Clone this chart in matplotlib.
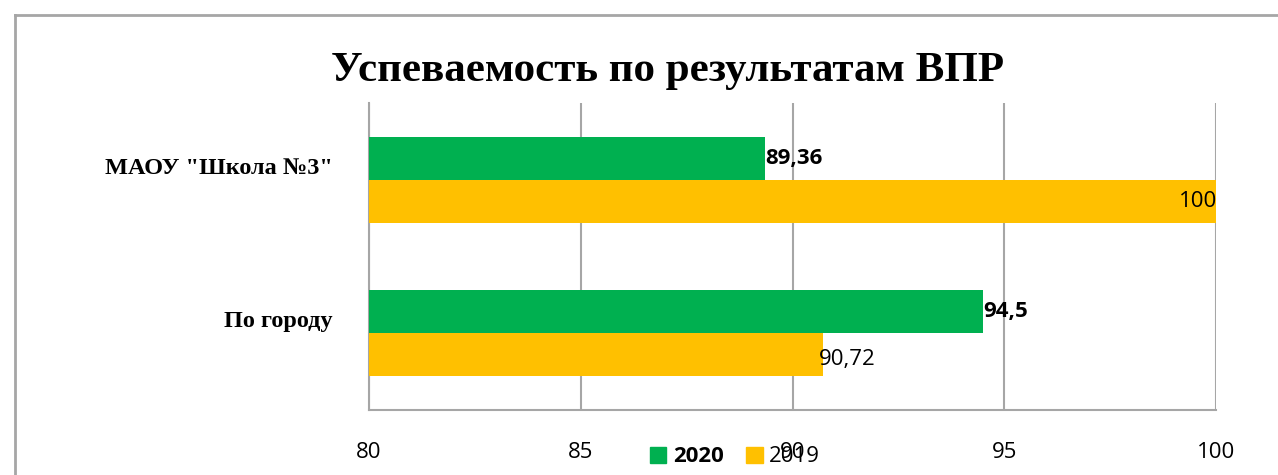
import matplotlib
matplotlib.use("Agg")
import matplotlib.pyplot as plt
import matplotlib.transforms as mtransforms
from matplotlib.lines import Line2D
from matplotlib.patches import Patch
import numpy as np

categories = ['МАОУ "Школа №3"', 'По городу']
values_2020 = [89.36, 94.5]
values_2019 = [100, 90.72]
labels_2020 = ['89,36', '94,5']
labels_2019 = ['100', '90,72']
series_names = ['2020', '2019']
xticks = [80, 85, 90, 95, 100]
title = 'Успеваемость по результатам ВПР'

GREEN = '#00B050'
YELLOW = '#FFC000'
GRID = '#A6A6A6'

fig = plt.figure(figsize=(12.78, 4.75), dpi=100)
ax = fig.add_axes([369/1278, (475-410)/475, (1216-369)/1278, 307/475])

pos = np.array([1, 0])
h = 0.28
ax.barh(pos + h/2, np.array(values_2020) - 80, left=80, height=h, color=GREEN, zorder=3)
ax.barh(pos - h/2, np.array(values_2019) - 80, left=80, height=h, color=YELLOW, zorder=3)

FS = 16
ax.set_xlim(80, 100)
ax.set_ylim(-0.5, 1.5)
ax.set_xticks(xticks)
ax.set_xticklabels([str(t) for t in xticks], fontfamily='Open Sans', fontsize=FS)
ax.tick_params(axis='x', length=0, pad=23)
ax.set_yticks(pos)
ax.set_yticklabels(categories, fontfamily='Liberation Serif', fontweight='bold', fontsize=17.5)
ax.tick_params(axis='y', length=0, pad=26)
off = mtransforms.ScaledTranslation(0, 14/100, fig.dpi_scale_trans)
for lab in ax.get_yticklabels():
    lab.set_transform(lab.get_transform() + off)

ax.grid(axis='x', color=GRID, linewidth=1.5, zorder=0)
for s in ['top', 'right']:
    ax.spines[s].set_visible(False)
for s in ['left', 'bottom']:
    ax.spines[s].set_color(GRID)
    ax.spines[s].set_linewidth(1.5)

# data labels
for p, v, t in zip(pos, values_2020, labels_2020):
    ax.text(v, p + h/2, t, ha='left', va='center', fontfamily='Open Sans',
            fontweight='bold', fontsize=FS, zorder=4)
for p, v, t in zip(pos, values_2019, labels_2019):
    if v >= 99.9:
        ax.text(v + 0.02, p - h/2, t, ha='right', va='center', fontfamily='Open Sans',
                fontsize=FS, zorder=4)
    else:
        ax.text(v - 0.1, p - h/2 - 0.03, t, ha='left', va='center', fontfamily='Open Sans',
                fontsize=FS, zorder=4)

fig.text(668/1278, 1 - 71/475, title, ha='center', va='center',
         fontfamily='Liberation Serif', fontweight='bold', fontsize=31)

handles = [Patch(color=GREEN), Patch(color=YELLOW)]
leg = fig.legend(handles, series_names, loc='center', bbox_to_anchor=(735/1278, 1 - 457/475),
                 ncol=2, frameon=False, handlelength=0.75, handleheight=0.75,
                 handletextpad=0.3, columnspacing=1.0,
                 prop={'family': 'Open Sans', 'size': FS})
leg.get_texts()[0].set_fontweight('bold')

# outer chart border (top and left visible)
fig.add_artist(Line2D([14.5/1278, 14.5/1278], [0, 1 - 14.5/475], transform=fig.transFigure,
                      color=GRID, linewidth=2))
fig.add_artist(Line2D([14.5/1278, 1], [1 - 14.5/475, 1 - 14.5/475], transform=fig.transFigure,
                      color=GRID, linewidth=2))

fig.savefig('out.png', dpi=100)
